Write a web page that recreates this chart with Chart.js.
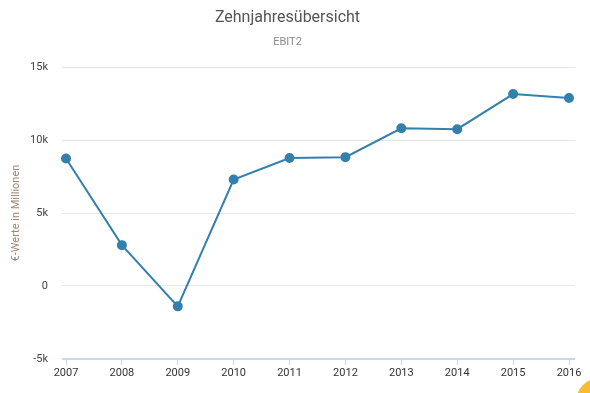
<!DOCTYPE html>
<html>
<head>
<meta charset="utf-8">
<script src="https://cdn.jsdelivr.net/npm/chart.js@4"></script>
<style>
    body { margin: 0; background: #fff; overflow: hidden; }
    #wrap { position: relative; width: 590px; height: 393px; }
    #dot { position: absolute; left: 576px; top: 378px; width: 48px; height: 48px; border-radius: 50%; background: #f8bd2c; }
</style>
</head>
<body>
<div id="wrap">
    <canvas id="ebit-line" width="590" height="393"></canvas>
    <div id="dot"></div>
</div>
<script>
// Zehnjahresübersicht EBIT
let years = ['2007', '2008', '2009', '2010', '2011', '2012', '2013', '2014', '2015', '2016'];
let ebit = [8750, 2800, -1400, 7300, 8780, 8840, 10820, 10760, 13170, 12900];
let yTicks = [-5000, 0, 5000, 10000, 15000];

let lineColor = '#3580ab';
let font = 'Roboto, "Liberation Sans", sans-serif';

let ctx = document.getElementById('ebit-line').getContext('2d');

let myChart = new Chart(ctx, {
    type: 'line',
    data: {
        labels: years,
        datasets: [{
            data: ebit,
            borderColor: lineColor,
            backgroundColor: lineColor,
            borderWidth: 2,
            pointRadius: 4,
            pointHoverRadius: 4,
            tension: 0
        }]
    },
    options: {
        responsive: false,
        animation: false,
        layout: {
            padding: { left: 0, right: 15, top: 4, bottom: 11 }
        },
        plugins: {
            legend: { display: false },
            tooltip: { enabled: false },
            title: {
                display: true,
                text: 'Zehnjahresübersicht',
                color: '#555',
                font: { family: font, size: 16, weight: 'normal' },
                padding: { top: 4, bottom: 8 }
            },
            subtitle: {
                display: true,
                text: 'EBIT2',
                color: '#8a8a8a',
                font: { family: font, size: 11 },
                padding: { bottom: 19 }
            }
        },
        scales: {
            x: {
                offset: false,
                border: { display: false },
                grid: {
                    drawOnChartArea: false,
                    tickLength: 6,
                    color: '#ccd6eb'
                },
                ticks: {
                    color: '#333',
                    font: { family: font, size: 11 },
                    padding: 2,
                    maxRotation: 0
                }
            },
            y: {
                min: -5000,
                max: 15000,
                afterBuildTicks: (scale) => {
                    scale.ticks = yTicks.map(v => ({ value: v }));
                },
                afterFit: (scale) => {
                    scale.width = 66;
                },
                border: { display: false },
                grid: {
                    tickLength: 4,
                    color: (c) => c.tick && c.tick.value === -5000 ? '#ccd6eb' : '#e6e6e6',
                    lineWidth: (c) => c.tick && c.tick.value === -5000 ? 2 : 1
                },
                ticks: {
                    color: '#444',
                    font: { family: font, size: 11 },
                    padding: 14,
                    callback: (value) => value === 0 ? '0' : (value / 1000) + 'k'
                },
                title: {
                    display: true,
                    text: '€-Werte in Millionen',
                    color: '#a08474',
                    font: { family: font, size: 11 },
                    padding: { top: 10, bottom: 0 }
                }
            },
            yRight: {
                position: 'right',
                min: -5000,
                max: 15000,
                afterBuildTicks: (scale) => {
                    scale.ticks = yTicks.map(v => ({ value: v }));
                },
                afterFit: (scale) => {
                    scale.width = 6;
                },
                border: { display: false },
                grid: {
                    drawOnChartArea: false,
                    tickLength: 6,
                    color: (c) => c.tick && c.tick.value === -5000 ? '#ccd6eb' : '#e6e6e6',
                    lineWidth: (c) => c.tick && c.tick.value === -5000 ? 2 : 1
                },
                ticks: { display: false }
            }
        }
    }
});
</script>
</body>
</html>
